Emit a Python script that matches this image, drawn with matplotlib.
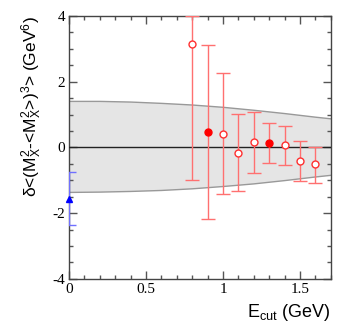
import numpy as np
import matplotlib
matplotlib.use("Agg")
import matplotlib.pyplot as plt
from matplotlib.ticker import MultipleLocator

# band (theory uncertainty)
band_x = [0.0, 0.2, 0.4, 0.6, 0.8, 1.0, 1.2, 1.4, 1.6, 1.7]
band_hi = [1.40, 1.40, 1.38, 1.34, 1.29, 1.22, 1.13, 1.03, 0.92, 0.87]
band_lo = [-1.37, -1.36, -1.34, -1.31, -1.26, -1.19, -1.11, -1.01, -0.90, -0.85]

# measurements: open circles
open_x = [0.8, 1.0, 1.1, 1.2, 1.4, 1.5, 1.6]
open_y = [3.14, 0.42, -0.17, 0.16, 0.07, -0.41, -0.51]
open_lo = [-0.99, -1.42, -1.34, -0.77, -0.53, -1.01, -1.07]
open_hi = [4.00, 2.25, 1.01, 1.07, 0.66, 0.19, 0.00]

# filled circles
full_x = [0.9, 1.3]
full_y = [0.46, 0.13]
full_lo = [-2.17, -0.48]
full_hi = [3.11, 0.74]

# blue point at zero
blue_x = [0.0]
blue_y = [-1.57]
blue_lo = [-2.36]
blue_hi = [-0.75]

plt.rcParams['mathtext.fontset'] = 'custom'
plt.rcParams['mathtext.rm'] = 'Liberation Sans'
plt.rcParams['mathtext.it'] = 'Liberation Sans:italic'

fig = plt.figure(figsize=(3.49, 3.32), dpi=100)
ax = fig.add_axes([0.198, 0.160, 0.750, 0.792])

ax.fill_between(band_x, band_lo, band_hi, facecolor='#e5e5e5', edgecolor='none', zorder=1)
ax.plot(band_x, band_hi, color='#999999', lw=1, zorder=2)
ax.plot(band_x, band_lo, color='#999999', lw=1, zorder=2)
ax.axhline(0, color='#222222', lw=1, zorder=3)

def err(y, lo, hi):
    y = np.array(y); return [y - np.array(lo), np.array(hi) - y]

ax.errorbar(open_x, open_y, yerr=err(open_y, open_lo, open_hi), fmt='o', ms=5,
            mfc='white', mec='#ff3030', mew=1, ecolor='#ff7070', elinewidth=1,
            capsize=5, capthick=1, zorder=4)
ax.errorbar(full_x, full_y, yerr=err(full_y, full_lo, full_hi), fmt='o', ms=5,
            mfc='red', mec='red', ecolor='#ff7070', elinewidth=1,
            capsize=5, capthick=1, zorder=4)
eb = ax.errorbar(blue_x, blue_y, yerr=err(blue_y, blue_lo, blue_hi), fmt='^', ms=5,
                 mfc='blue', mec='blue', ecolor='#7070ff', elinewidth=1,
                 capsize=5, capthick=1, zorder=4)
eb[0].set_clip_on(False)

ax.set_xlim(0, 1.7)
ax.set_ylim(-4, 4)
ax.xaxis.set_minor_locator(MultipleLocator(0.1))
ax.yaxis.set_minor_locator(MultipleLocator(0.5))
ax.tick_params(which='both', direction='in', top=True, right=True, color='#555555')
ax.tick_params(which='major', length=6, width=1, pad=3)
ax.tick_params(which='minor', length=3, width=1)
ax.set_xticks([0, 0.5, 1, 1.5])
ax.set_xticklabels(['0', '0.5', '1', '1.5'], family='Liberation Serif', fontsize=11)
ax.set_yticks([-4, -2, 0, 2, 4])
ax.set_yticklabels(['-4', '-2', '0', '2', '4'], family='Liberation Serif', fontsize=11)
for s in ax.spines.values():
    s.set_color('#444444')
    s.set_linewidth(1)

ax.set_xlabel(r'E$_\mathrm{cut}$ (GeV)', family='Liberation Sans', fontsize=13, loc='right', labelpad=4)
ax.set_ylabel(r'δ<(M$_\mathrm{X}^2$-<M$_\mathrm{X}^2$>)$^3$> (GeV$^6$)', family='Liberation Sans',
              fontsize=12.5, loc='top', labelpad=6)

fig.savefig('out.png', dpi=100)
